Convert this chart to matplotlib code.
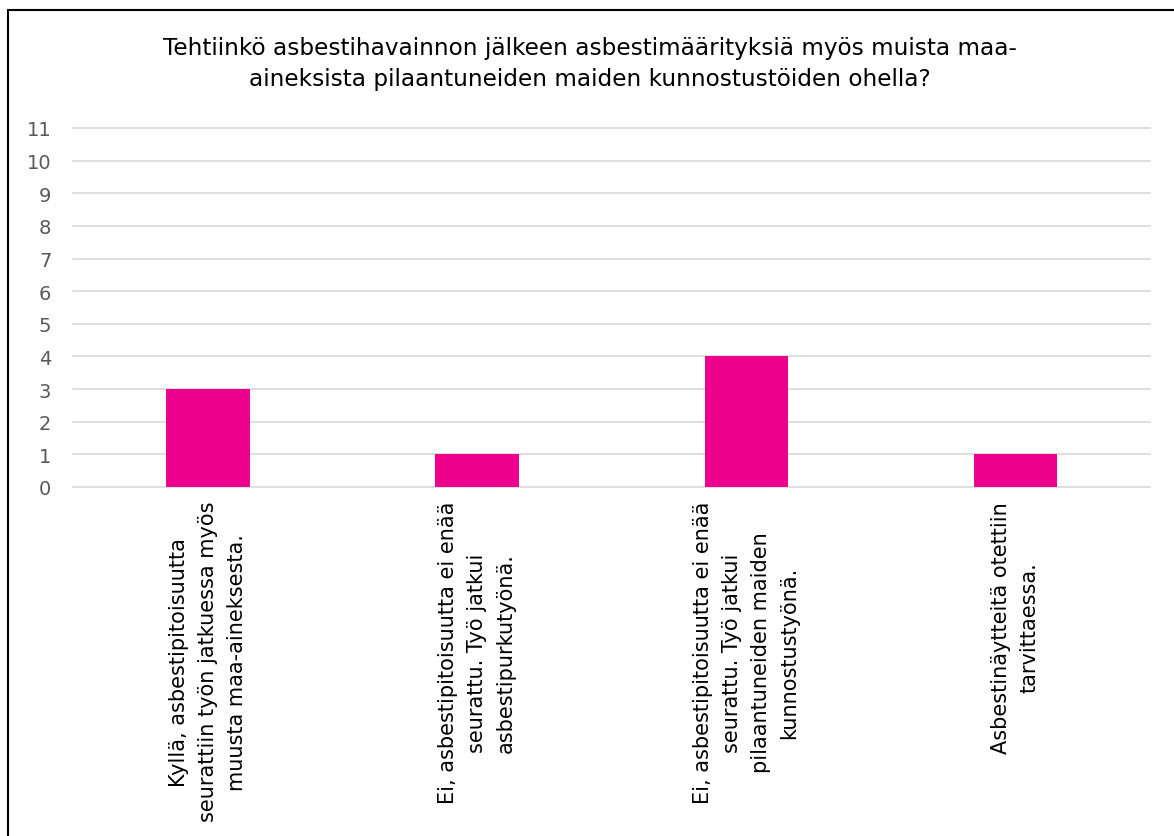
import matplotlib
matplotlib.use("Agg")
import matplotlib.pyplot as plt
from matplotlib.patches import Rectangle

# Survey answers and counts
categories = [
    "Kyllä, asbestipitoisuutta\nseurattiin työn jatkuessa myös\nmuusta maa-aineksesta.",
    "Ei, asbestipitoisuutta ei enää\nseurattu. Työ jatkui\nasbestipurkutyönä.",
    "Ei, asbestipitoisuutta ei enää\nseurattu. Työ jatkui\npilaantuneiden maiden\nkunnostustyönä.",
    "Asbestinäytteitä otettiin\ntarvittaessa.",
]
counts = [3, 1, 4, 1]
y_ticks = list(range(0, 12))
title = ("Tehtiinkö asbestihavainnon jälkeen asbestimäärityksiä myös muista maa-\n"
         "aineksista pilaantuneiden maiden kunnostustöiden ohella?")

plt.rcParams["font.family"] = ["DejaVu Sans"]

fig = plt.figure(figsize=(11.74, 8.37), dpi=100)
ax = fig.add_axes([0.0626, 0.4170, 0.9170, 0.4289])

x = range(len(categories))
ax.bar(x, counts, width=0.31, color="#EC008C", zorder=3)

ax.set_xlim(-0.5, len(categories) - 0.5)
ax.set_ylim(0, 11)
ax.set_yticks(y_ticks)
ax.set_yticklabels([str(t) for t in y_ticks], fontsize=14, color="#595959")
ax.set_xticks(list(x))
ax.set_xticklabels(categories, rotation=90, ha="center", va="top",
                   multialignment="center", fontsize=15, color="#000000")
for lbl in ax.get_xticklabels():
    lbl.set_linespacing(1.55)
ax.tick_params(axis="both", length=0)
ax.tick_params(axis="x", pad=10)
ax.tick_params(axis="y", pad=16)

ax.grid(axis="y", color="#D9D9D9", linewidth=1.2, zorder=0)
for gl in ax.get_ygridlines():
    gl.set_clip_on(False)
for s in ax.spines.values():
    s.set_visible(False)

fig.text(0.5025, 0.9235, title, ha="center", va="center", fontsize=16.7,
         color="#000000", linespacing=1.45)

# Outer chart frame
fig.patches.append(Rectangle((8 / 1174, -0.05), 1.2, 1 - 11 / 837 + 0.05,
                             transform=fig.transFigure, fill=False,
                             edgecolor="#000000", linewidth=1.5))

fig.savefig("out.png", dpi=100)
